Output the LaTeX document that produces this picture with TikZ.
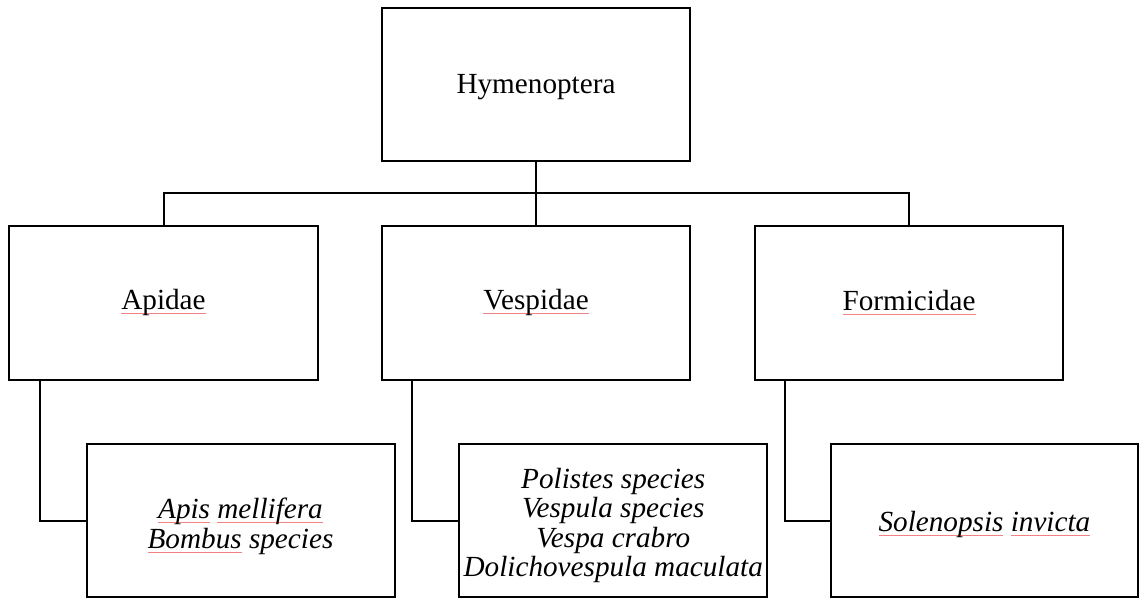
\documentclass[tikz,border=0pt]{standalone}
\usepackage{fontspec}
\setmainfont{Liberation Serif}
\definecolor{sqred}{RGB}{240,130,130}
\newsavebox\sqbox
\newcommand\sq[1]{\sbox\sqbox{#1}\rlap{\textcolor{sqred}{\rule[-2.2pt]{\wd\sqbox}{0.6pt}}}\usebox\sqbox}
\tikzset{
  boxnode/.style={draw=black, line width=1pt, rectangle, inner sep=0pt,
    minimum width=154.25pt, minimum height=76.75pt},
  subbox/.style={boxnode, minimum width=154pt, minimum height=76.5pt},
  txt/.style={inner sep=0pt, align=center,
    font=\fontsize{14.6pt}{14.8pt}\selectfont},
  link/.style={draw=black, line width=1pt}
}
\begin{document}
\begin{tikzpicture}[x=0.5pt,y=-0.5pt]
\useasboundingbox[fill=white] (0,0) rectangle (1139,598);
% boxes
\node[boxnode] (top) at (536,84.75) {};
\node[boxnode] (api) at (163.5,303.25) {};
\node[boxnode] (vesp) at (536,303.25) {};
\node[boxnode] (form) at (909,303.25) {};
\node[subbox] (apis) at (240.5,520.5) {};
\node[subbox] (vsp) at (613.25,520.5) {};
\node[subbox, minimum width=153.5pt] (sol) at (984.4,520.5) {};
% texts
\node[txt] (topT) at (536,87.5) {Hymenoptera};
\node[txt] (apiT) at (163.5,302.5) {\sq{Apidae}};
\node[txt] (vespT) at (536,302.5) {\sq{Vespidae}};
\node[txt] (formT) at (909,302.5) {\sq{Formicidae}};
\node[txt] (apisT) at (240.5,526.5)
  {\itshape \sq{Apis} \sq{mellifera}\\ \itshape \sq{Bombus} species};
\node[txt] (vspT) at (613.25,525.5)
  {\itshape Polistes species\\ \itshape Vespula species\\ \itshape Vespa crabro\\ \itshape Dolichovespula maculata};
\node[txt] (solT) at (984.4,524.5) {\itshape \sq{Solenopsis} \sq{invicta}};
% connectors
\coordinate (bar) at (536,193);
\draw[link] (top.south) -- (vesp.north);
\draw[link] (api.north) |- (bar) -| (form.north);
\draw[link] ([xshift=15.85pt]api.south west) |- (apis.west);
\draw[link] ([xshift=15.85pt]vesp.south west) |- (vsp.west);
\draw[link] ([xshift=15.65pt]form.south west) |- (sol.west);
\end{tikzpicture}
\end{document}
